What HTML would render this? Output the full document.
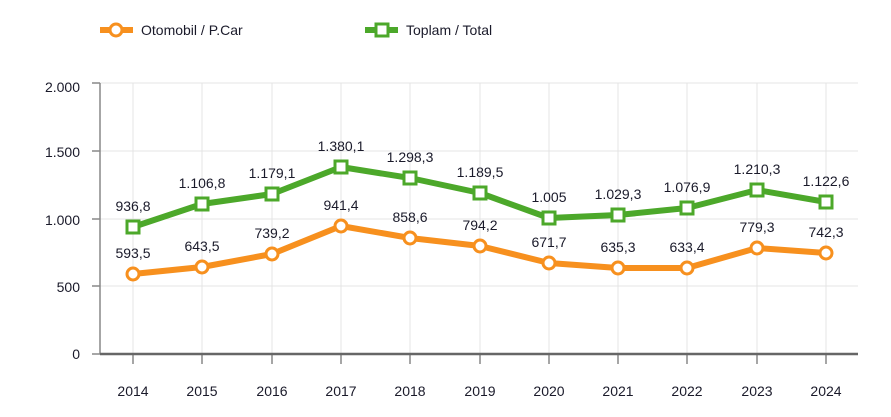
<!DOCTYPE html>
<html><head><meta charset="utf-8"><style>body{margin:0;background:#fff}svg text{font-family:"Liberation Sans",sans-serif;fill:#1a1a2a}</style></head>
<body><svg width="891" height="412" xmlns="http://www.w3.org/2000/svg">
<g stroke="#e4e4e4" stroke-width="1">
<line x1="100" y1="83" x2="858" y2="83"/><line x1="100" y1="151" x2="858" y2="151"/><line x1="100" y1="219" x2="858" y2="219"/><line x1="100" y1="286" x2="858" y2="286"/>
<line x1="133" y1="83" x2="133" y2="354"/><line x1="202" y1="83" x2="202" y2="354"/><line x1="272" y1="83" x2="272" y2="354"/><line x1="341" y1="83" x2="341" y2="354"/><line x1="410" y1="83" x2="410" y2="354"/><line x1="480" y1="83" x2="480" y2="354"/><line x1="549" y1="83" x2="549" y2="354"/><line x1="618" y1="83" x2="618" y2="354"/><line x1="687" y1="83" x2="687" y2="354"/><line x1="757" y1="83" x2="757" y2="354"/><line x1="826" y1="83" x2="826" y2="354"/>
</g>
<g stroke="#888" stroke-width="1.5">
<line x1="100" y1="83" x2="100" y2="354"/>
<line x1="92" y1="83" x2="100" y2="83"/><line x1="92" y1="151" x2="100" y2="151"/><line x1="92" y1="219" x2="100" y2="219"/><line x1="92" y1="286" x2="100" y2="286"/><line x1="92" y1="354" x2="100" y2="354"/>
<line x1="133" y1="354" x2="133" y2="364"/><line x1="202" y1="354" x2="202" y2="364"/><line x1="272" y1="354" x2="272" y2="364"/><line x1="341" y1="354" x2="341" y2="364"/><line x1="410" y1="354" x2="410" y2="364"/><line x1="480" y1="354" x2="480" y2="364"/><line x1="549" y1="354" x2="549" y2="364"/><line x1="618" y1="354" x2="618" y2="364"/><line x1="687" y1="354" x2="687" y2="364"/><line x1="757" y1="354" x2="757" y2="364"/><line x1="826" y1="354" x2="826" y2="364"/>
</g>
<line x1="100" y1="354" x2="858" y2="354" stroke="#666" stroke-width="2.5"/>
<g font-size="14" text-anchor="end">
<text x="80" y="92">2.000</text><text x="80" y="157">1.500</text><text x="80" y="225">1.000</text><text x="80" y="292">500</text><text x="80" y="359">0</text></g>
<g font-size="14" text-anchor="middle">
<text x="133" y="396">2014</text><text x="202" y="396">2015</text><text x="272" y="396">2016</text><text x="341" y="396">2017</text><text x="410" y="396">2018</text><text x="480" y="396">2019</text><text x="549" y="396">2020</text><text x="618" y="396">2021</text><text x="687" y="396">2022</text><text x="757" y="396">2023</text><text x="826" y="396">2024</text></g>
<polyline fill="none" stroke="#4ca82a" stroke-width="6" stroke-linejoin="round" points="133,227 202,204 272,194 341,167 410,178 480,193 549,218 618,215 687,208 757,190 826,202"/>
<g fill="#fff" stroke="#4ca82a" stroke-width="3">
<rect x="127" y="221" width="12" height="12"/><rect x="196" y="198" width="12" height="12"/><rect x="266" y="188" width="12" height="12"/><rect x="335" y="161" width="12" height="12"/><rect x="404" y="172" width="12" height="12"/><rect x="474" y="187" width="12" height="12"/><rect x="543" y="212" width="12" height="12"/><rect x="612" y="209" width="12" height="12"/><rect x="681" y="202" width="12" height="12"/><rect x="751" y="184" width="12" height="12"/><rect x="820" y="196" width="12" height="12"/></g>
<polyline fill="none" stroke="#f7901e" stroke-width="6" stroke-linejoin="round" points="133,274 202,267 272,254 341,226 410,238 480,246 549,263 618,268 687,268 757,248 826,253"/>
<g fill="#fff" stroke="#f7901e" stroke-width="3">
<circle cx="133" cy="274" r="6"/><circle cx="202" cy="267" r="6"/><circle cx="272" cy="254" r="6"/><circle cx="341" cy="226" r="6"/><circle cx="410" cy="238" r="6"/><circle cx="480" cy="246" r="6"/><circle cx="549" cy="263" r="6"/><circle cx="618" cy="268" r="6"/><circle cx="687" cy="268" r="6"/><circle cx="757" cy="248" r="6"/><circle cx="826" cy="253" r="6"/></g>
<g font-size="14" text-anchor="middle">
<text x="133" y="211">936,8</text><text x="202" y="188">1.106,8</text><text x="272" y="178">1.179,1</text><text x="341" y="151">1.380,1</text><text x="410" y="162">1.298,3</text><text x="480" y="177">1.189,5</text><text x="549" y="202">1.005</text><text x="618" y="199">1.029,3</text><text x="687" y="192">1.076,9</text><text x="757" y="174">1.210,3</text><text x="826" y="186">1.122,6</text>
<text x="133" y="258">593,5</text><text x="202" y="251">643,5</text><text x="272" y="238">739,2</text><text x="341" y="210">941,4</text><text x="410" y="222">858,6</text><text x="480" y="230">794,2</text><text x="549" y="247">671,7</text><text x="618" y="252">635,3</text><text x="687" y="252">633,4</text><text x="757" y="232">779,3</text><text x="826" y="237">742,3</text></g>
<line x1="100" y1="30" x2="133" y2="30" stroke="#f7901e" stroke-width="6"/><circle cx="116" cy="30" r="6" fill="#fff" stroke="#f7901e" stroke-width="3"/>
<text x="141" y="35" font-size="14">Otomobil / P.Car</text>
<line x1="365" y1="30" x2="398" y2="30" stroke="#4ca82a" stroke-width="6"/><rect x="376" y="24" width="12" height="12" fill="#fff" stroke="#4ca82a" stroke-width="3"/>
<text x="406" y="35" font-size="14">Toplam / Total</text>
</svg></body></html>
